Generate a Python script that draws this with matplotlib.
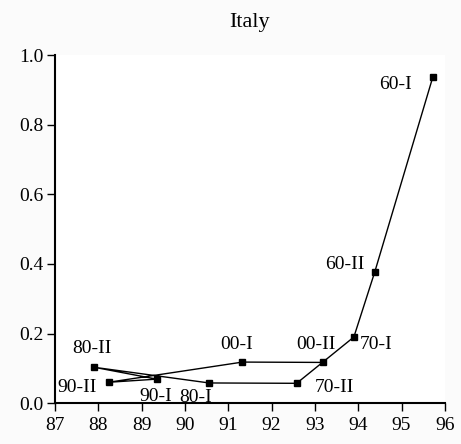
import matplotlib
matplotlib.use("Agg")
import matplotlib.pyplot as plt

# labels in chronological order, the line follows this order
periods = ["60-I", "60-II", "70-I", "70-II", "80-I", "80-II", "90-I", "90-II", "00-I", "00-II"]
x_vals = [95.72, 94.38, 93.90, 92.58, 90.56, 87.91, 89.35, 88.24, 91.33, 93.19]
y_vals = [0.936, 0.376, 0.190, 0.057, 0.058, 0.103, 0.069, 0.060, 0.118, 0.117]

# label offsets in points (dx, dy to baseline) and horizontal alignment
label_pos = {
    "60-I": (-15.3, -8.6, "right"),
    "60-II": (-7.5, 2.4, "right"),
    "70-I": (4.3, -8.3, "left"),
    "70-II": (13.2, -6.5, "left"),
    "80-I": (-9.6, -13.5, "center"),
    "80-II": (-2, 10, "center"),
    "90-I": (-0.9, -16, "center"),
    "90-II": (-8.4, -7, "right"),
    "00-I": (-4.5, 9.6, "center"),
    "00-II": (-4.9, 9.9, "center"),
}

x_ticks = list(range(87, 97))
y_ticks = [0.0, 0.2, 0.4, 0.6, 0.8, 1.0]

plt.rcParams["font.family"] = ["Liberation Serif", "DejaVu Serif"]
plt.rcParams["font.size"] = 14

fig = plt.figure(figsize=(4.61, 4.44), dpi=100, facecolor="#fbfbfb")
ax = fig.add_axes([0.119, 0.092, 0.846, 0.784])
ax.set_facecolor("white")

ax.plot(x_vals, y_vals, color="black", lw=1.0, marker="s", ms=4.5,
        mfc="black", mec="black")

for lab, x, y in zip(periods, x_vals, y_vals):
    dx, dy, ha = label_pos[lab]
    ax.annotate(lab, (x, y), xytext=(dx, dy), textcoords="offset points",
                ha=ha, va="baseline", fontsize=14)

ax.set_xlim(87, 96)
ax.set_ylim(0, 1.0)
ax.set_xticks(x_ticks)
ax.set_yticks(y_ticks)
ax.set_xticklabels([str(t) for t in x_ticks])
ax.set_yticklabels(["%.1f" % t for t in y_ticks])
for s in ["top", "right"]:
    ax.spines[s].set_visible(False)
for s in ["left", "bottom"]:
    ax.spines[s].set_linewidth(1.5)
ax.tick_params(axis="y", length=6, width=1, pad=2)
ax.tick_params(axis="x", length=6, width=1, pad=4)
ax.set_title("Italy", fontsize=16, pad=20)

fig.savefig("out.png", dpi=100, facecolor=fig.get_facecolor())
